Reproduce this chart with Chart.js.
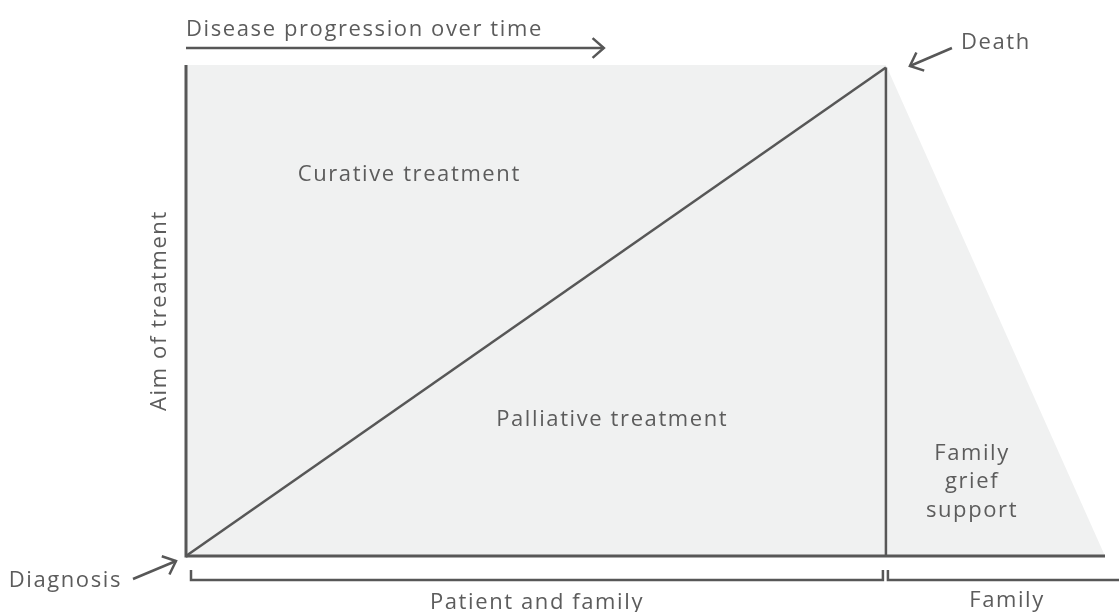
<!DOCTYPE html>
<html>
<head>
<meta charset="utf-8">
<script src="https://cdn.jsdelivr.net/npm/chart.js@4"></script>
<style>
html,body{margin:0;padding:0;background:#fff;}
#wrap{width:1119px;height:612px;}
</style>
</head>
<body>
<div id="wrap"><canvas id="c" width="1119" height="612"></canvas></div>
<script>
// ---- data (time units: diagnosis = 0, death = 10; aim of treatment 0..100) ----
const timeMilestones = [0, 10];          // diagnosis, death
const griefEnd = 13.13;                  // end of family grief support period
const aimRange = [0, 100];               // palliative (0) .. curative (100)
const phaseLabels = ["Patient and family", "Family"];
const phaseBounds = [0, 10, 13.4];
const regionLabels = ["Curative treatment", "Palliative treatment", ["Family", "grief", "support"]];
const axisTitles = ["Disease progression over time", "Aim of treatment"];
const eventLabels = ["Diagnosis", "Death"];

const INK = '#575757';
const TXT = '#5c5c5c';
const FILL = '#f0f1f1';
const FONT = '"Open Sans", "Noto Sans", sans-serif';

const annot = {
  id: 'annot',
  afterDatasetsDraw(chart) {
    const ctx = chart.ctx;
    const xs = chart.scales.x, ys = chart.scales.y;
    const px = v => xs.getPixelForValue(v);
    const py = v => ys.getPixelForValue(v);
    ctx.save();
    ctx.strokeStyle = INK;
    ctx.fillStyle = TXT;
    ctx.lineWidth = 2.5;
    ctx.lineCap = 'butt';

    function line(x1, y1, x2, y2) {
      ctx.beginPath(); ctx.moveTo(x1, y1); ctx.lineTo(x2, y2); ctx.stroke();
    }
    function arrow(x1, y1, x2, y2, len) {
      line(x1, y1, x2, y2);
      const a = Math.atan2(y2 - y1, x2 - x1);
      const sp = 0.72;
      ctx.beginPath();
      ctx.moveTo(x2 - len * Math.cos(a - sp), y2 - len * Math.sin(a - sp));
      ctx.lineTo(x2, y2);
      ctx.lineTo(x2 - len * Math.cos(a + sp), y2 - len * Math.sin(a + sp));
      ctx.stroke();
    }
    function text(t, x, y, align) {
      ctx.textAlign = align || 'center';
      ctx.textBaseline = 'middle';
      ctx.fillText(t, x, y);
    }

    ctx.font = '22px ' + FONT;
    ctx.letterSpacing = '1.6px';

    // axis lines
    const x0 = px(timeMilestones[0]);
    ctx.lineWidth = 3;
    line(x0, py(aimRange[1]), x0, py(aimRange[0]) + 1.5);
    line(x0, py(aimRange[0]), px(griefEnd), py(aimRange[0]));
    ctx.lineWidth = 2.5;

    // top axis title + arrow
    text(axisTitles[0], x0, py(aimRange[1]) - 35, 'left');
    arrow(x0, py(aimRange[1]) - 17, px(5.97), py(aimRange[1]) - 17, 15);

    // y axis title rotated
    ctx.save();
    ctx.translate(x0 - 26, (py(aimRange[0]) + py(aimRange[1])) / 2);
    ctx.rotate(-Math.PI / 2);
    text(axisTitles[1], 0, 0, 'center');
    ctx.restore();

    // region labels
    text(regionLabels[0], px(3.19), py(77.7));
    text(regionLabels[1], px(6.09), py(27.8));
    const gl = regionLabels[2];
    for (let i = 0; i < gl.length; i++) {
      text(gl[i], px(11.23), py(20.9) + i * 28.5);
    }

    // Death
    const dx = px(timeMilestones[1]), dy = py(aimRange[1]);
    arrow(dx + 66, dy - 17, dx + 24, dy + 1, 15);
    text(eventLabels[1], dx + 75, dy - 22, 'left');

    // Diagnosis
    const gx = px(timeMilestones[0]), gy = py(aimRange[0]);
    arrow(gx - 53, gy + 23, gx - 10, gy + 5, 15);
    text(eventLabels[0], gx - 64, gy + 25, 'right');

    // phase brackets
    const by = gy + 24, bt = gy + 14;
    const bx = [px(phaseBounds[0]) + 5, px(phaseBounds[1]) - 3, px(phaseBounds[1]) + 2, px(phaseBounds[2])];
    ctx.beginPath();
    ctx.moveTo(bx[0], bt); ctx.lineTo(bx[0], by); ctx.lineTo(bx[1], by); ctx.lineTo(bx[1], bt);
    ctx.stroke();
    ctx.beginPath();
    ctx.moveTo(bx[2], bt); ctx.lineTo(bx[2], by); ctx.lineTo(bx[3], by);
    ctx.stroke();
    text(phaseLabels[0], (bx[0] + bx[1]) / 2, gy + 47);
    text(phaseLabels[1], px(11.73), gy + 45);

    ctx.restore();
  }
};

new Chart(document.getElementById('c'), {
  type: 'scatter',
  data: {
    datasets: [
      { // curative/palliative area
        data: [{x: timeMilestones[0], y: aimRange[1]}, {x: timeMilestones[1], y: aimRange[1]}],
        showLine: true, fill: 'origin', backgroundColor: FILL, borderWidth: 0, pointRadius: 0, order: 5
      },
      { // family grief support area
        data: [{x: timeMilestones[1], y: aimRange[1]}, {x: griefEnd, y: aimRange[0]}],
        showLine: true, fill: 'origin', backgroundColor: FILL, borderWidth: 0, pointRadius: 0, order: 5
      },
      { // diagonal divider
        data: [{x: timeMilestones[0], y: aimRange[0]}, {x: timeMilestones[1], y: aimRange[1] - 0.5}],
        showLine: true, borderColor: INK, borderWidth: 2.5, pointRadius: 0, clip: false, order: 1
      },
      { // death vertical
        data: [{x: timeMilestones[1], y: aimRange[0]}, {x: timeMilestones[1], y: aimRange[1] - 0.5}],
        showLine: true, borderColor: INK, borderWidth: 2.5, pointRadius: 0, clip: false, order: 1
      }
    ]
  },
  options: {
    responsive: false,
    animation: false,
    events: [],
    layout: { padding: { left: 186, right: 14, top: 65, bottom: 56 } },
    plugins: { legend: { display: false }, tooltip: { enabled: false } },
    scales: {
      x: {
        type: 'linear', min: 0, max: griefEnd,
        grid: { display: false, drawTicks: false },
        ticks: { display: false },
        border: { display: false },
        afterFit(s) { s.height = 0; }
      },
      y: {
        type: 'linear', min: aimRange[0], max: aimRange[1],
        grid: { display: false, drawTicks: false },
        ticks: { display: false },
        border: { display: false },
        afterFit(s) { s.width = 0; }
      }
    }
  },
  plugins: [annot]
});
</script>
</body>
</html>
